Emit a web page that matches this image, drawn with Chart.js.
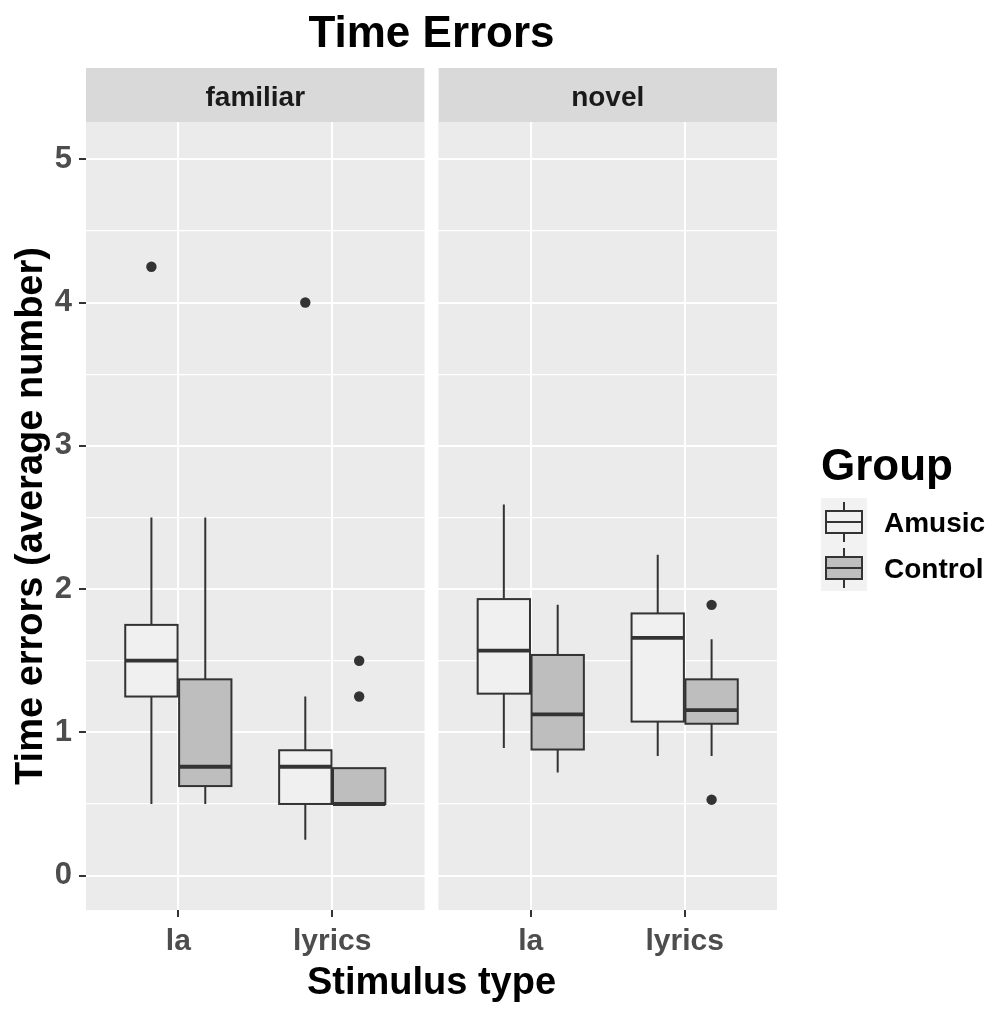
<!DOCTYPE html>
<html>
<head>
<meta charset="utf-8">
<title>Time Errors</title>
<script src="https://cdn.jsdelivr.net/npm/chart.js@4.4.1/dist/chart.umd.min.js"></script>
<style>
  body { margin: 0; background: #fff; }
  #wrap { width: 997px; height: 1010px; }
</style>
</head>
<body>
<div id="wrap"><canvas id="timeErrors" width="997" height="1010"></canvas></div>
<script>
// Facets, categories and groups
const panels = ['familiar', 'novel'];
const stimuli = ['la', 'lyrics'];
const groups = ['Amusic', 'Control'];

// Box stats, one entry per slot: familiar-la, familiar-lyrics, novel-la, novel-lyrics
const amusicLower  = [0.50, 0.25, 0.89, 0.835];
const amusicQ1     = [1.25, 0.50, 1.27, 1.075];
const amusicMedian = [1.50, 0.76, 1.57, 1.66];
const amusicQ3     = [1.75, 0.875, 1.93, 1.83];
const amusicUpper  = [2.50, 1.25, 2.59, 2.24];
const amusicOutliers = [[4.25], [4.00], [], []];

const controlLower  = [0.50, 0.50, 0.72, 0.835];
const controlQ1     = [0.625, 0.50, 0.88, 1.06];
const controlMedian = [0.76, 0.50, 1.125, 1.155];
const controlQ3     = [1.37, 0.75, 1.54, 1.37];
const controlUpper  = [2.50, 0.75, 1.89, 1.65];
const controlOutliers = [[], [1.50, 1.25], [], [1.89, 0.53]];

const yTicks = [0, 1, 2, 3, 4, 5];

const FONT = "'Liberation Sans', Arial, sans-serif";
const groupFills = ['#F0F0F0', '#BEBEBE'];
const lineColor = '#333333';

// x layout: each facet spans 0.4..2.6 (discrete expansion), small gap between facets
const panelSpan = 2.2;
const panelGap = 0.09;
const dodge = 0.175;
const boxWidth = 0.34;

const boxStats = [
    { lower: amusicLower, q1: amusicQ1, median: amusicMedian, q3: amusicQ3, upper: amusicUpper },
    { lower: controlLower, q1: controlQ1, median: controlMedian, q3: controlQ3, upper: controlUpper }
];

function panelStart(p) {
    return 0.4 + p * (panelSpan + panelGap);
}

function slotX(slot, g) {
    const p = Math.floor(slot / stimuli.length);
    const s = slot % stimuli.length;
    return panelStart(p) + 0.6 + s + (g === 0 ? -dodge : dodge);
}

function outlierPoints(outliers, g) {
    const pts = [];
    outliers.forEach((vals, slot) => {
        vals.forEach(v => pts.push({ x: slotX(slot, g), y: v }));
    });
    return pts;
}

const xTickValues = [];
panels.forEach((p, i) => stimuli.forEach((s, j) => xTickValues.push(panelStart(i) + 0.6 + j)));
const yGridValues = yTicks.flatMap(v => v < yTicks[yTicks.length - 1] ? [v, v + 0.5] : [v]);

const facetPlugin = {
    id: 'facets',
    beforeDraw(chart) {
        const { ctx, chartArea: a, scales: { x } } = chart;
        ctx.save();
        ctx.fillStyle = '#EBEBEB';
        ctx.fillRect(a.left, a.top, a.right - a.left, a.bottom - a.top);
        panels.forEach((name, p) => {
            const l = x.getPixelForValue(panelStart(p));
            const r = x.getPixelForValue(panelStart(p) + panelSpan);
            ctx.fillStyle = '#D9D9D9';
            ctx.fillRect(l, a.top - 54, r - l, 54);
            ctx.fillStyle = '#1A1A1A';
            ctx.font = 'bold 28px ' + FONT;
            ctx.textAlign = 'center';
            ctx.textBaseline = 'middle';
            ctx.fillText(name, (l + r) / 2, a.top - 24);
        });
        ctx.restore();
    },
    beforeDatasetsDraw(chart) {
        const { ctx, chartArea: a, scales: { x, y } } = chart;
        ctx.save();
        // white gutter between the two facets
        const gl = x.getPixelForValue(panelStart(0) + panelSpan);
        const gr = x.getPixelForValue(panelStart(1));
        ctx.fillStyle = '#FFFFFF';
        ctx.fillRect(gl, a.top - 60, gr - gl, a.bottom - a.top + 60);

        const half = (x.getPixelForValue(boxWidth) - x.getPixelForValue(0)) / 2;
        boxStats.forEach((st, g) => {
            st.median.forEach((med, slot) => {
                const cx = x.getPixelForValue(slotX(slot, g));
                const yLow = y.getPixelForValue(st.lower[slot]);
                const yQ1 = y.getPixelForValue(st.q1[slot]);
                const yMed = y.getPixelForValue(med);
                const yQ3 = y.getPixelForValue(st.q3[slot]);
                const yUp = y.getPixelForValue(st.upper[slot]);
                ctx.strokeStyle = lineColor;
                ctx.lineWidth = 2;
                ctx.beginPath();
                ctx.moveTo(cx, yUp);
                ctx.lineTo(cx, yQ3);
                ctx.moveTo(cx, yQ1);
                ctx.lineTo(cx, yLow);
                ctx.stroke();
                ctx.fillStyle = groupFills[g];
                ctx.fillRect(cx - half, yQ3, 2 * half, yQ1 - yQ3);
                ctx.strokeRect(cx - half, yQ3, 2 * half, yQ1 - yQ3);
                ctx.lineWidth = 3.8;
                ctx.beginPath();
                ctx.moveTo(cx - half, yMed);
                ctx.lineTo(cx + half, yMed);
                ctx.stroke();
            });
        });
        ctx.restore();
    },
    afterDraw(chart) {
        const { ctx } = chart;
        ctx.save();
        ctx.fillStyle = '#000000';
        ctx.font = 'bold 44px ' + FONT;
        ctx.textAlign = 'left';
        ctx.textBaseline = 'middle';
        ctx.fillText('Group', 821, 468);
        ctx.fillStyle = '#F2F2F2';
        ctx.fillRect(821, 498, 46, 93);
        groups.forEach((name, g) => {
            const cy = 522 + g * 46;
            const cx = 844;
            ctx.strokeStyle = lineColor;
            ctx.lineWidth = 2;
            ctx.beginPath();
            ctx.moveTo(cx, cy - 20);
            ctx.lineTo(cx, cy - 11);
            ctx.moveTo(cx, cy + 11);
            ctx.lineTo(cx, cy + 20);
            ctx.stroke();
            ctx.fillStyle = groupFills[g];
            ctx.fillRect(826, cy - 11, 36, 22);
            ctx.strokeRect(826, cy - 11, 36, 22);
            ctx.beginPath();
            ctx.moveTo(826, cy);
            ctx.lineTo(862, cy);
            ctx.stroke();
            ctx.fillStyle = '#000000';
            ctx.font = 'bold 28px ' + FONT;
            ctx.fillText(name, 884, cy + 2);
        });
        ctx.restore();
    }
};

Chart.defaults.font.family = FONT;

new Chart(document.getElementById('timeErrors'), {
    type: 'scatter',
    data: {
        datasets: groups.map((name, g) => ({
            label: name,
            data: outlierPoints(g === 0 ? amusicOutliers : controlOutliers, g),
            pointRadius: 5.2,
            pointHoverRadius: 5.2,
            backgroundColor: lineColor,
            borderWidth: 0
        }))
    },
    options: {
        responsive: false,
        animation: false,
        devicePixelRatio: 1,
        events: [],
        layout: { padding: { left: 0, right: 220, top: 0, bottom: 0 } },
        plugins: {
            legend: { display: false },
            tooltip: { enabled: false },
            title: {
                display: true,
                text: 'Time Errors',
                color: '#000000',
                fullSize: false,
                font: { size: 44, weight: 'bold' },
                padding: { top: 8, bottom: 61.2 }
            }
        },
        scales: {
            x: {
                type: 'linear',
                min: panelStart(0),
                max: panelStart(panels.length - 1) + panelSpan,
                afterBuildTicks(scale) {
                    scale.ticks = xTickValues.map(v => ({ value: v }));
                },
                afterFit(scale) {
                    scale.height = 100;
                },
                grid: { color: '#FFFFFF', lineWidth: 2, tickLength: 7, tickColor: lineColor, tickWidth: 2 },
                border: { display: false },
                ticks: {
                    autoSkip: false,
                    maxRotation: 0,
                    padding: 7,
                    color: '#4D4D4D',
                    font: { size: 30, weight: 'bold' },
                    callback: (v, i) => stimuli[i % stimuli.length]
                },
                title: {
                    display: true,
                    text: 'Stimulus type',
                    color: '#000000',
                    font: { size: 38, weight: 'bold' },
                    padding: { top: 0, bottom: 4 }
                }
            },
            y: {
                min: -0.24,
                max: 5.26,
                afterBuildTicks(scale) {
                    scale.ticks = yGridValues.map(v => ({ value: v }));
                },
                afterFit(scale) {
                    scale.width = 86;
                },
                grid: {
                    color: '#FFFFFF',
                    lineWidth: c => (c.tick && Number.isInteger(c.tick.value)) ? 2 : 1.2,
                    tickLength: 7,
                    tickColor: c => (c.tick && Number.isInteger(c.tick.value)) ? lineColor : 'rgba(0,0,0,0)',
                    tickWidth: 2
                },
                border: { display: false },
                ticks: {
                    padding: 7,
                    color: '#4D4D4D',
                    font: { size: 31, weight: 'bold' },
                    callback: v => Number.isInteger(v) ? v : ''
                },
                title: {
                    display: true,
                    text: 'Time errors (average number)',
                    color: '#000000',
                    font: { size: 38, weight: 'bold' },
                    padding: { top: 9, bottom: 0 }
                }
            }
        }
    },
    plugins: [facetPlugin]
});
</script>
</body>
</html>
